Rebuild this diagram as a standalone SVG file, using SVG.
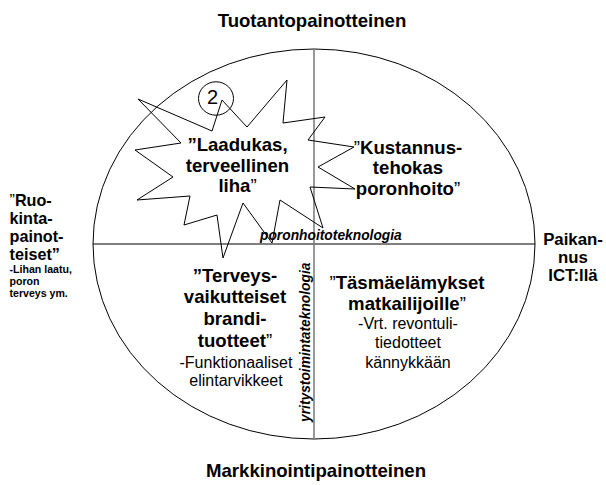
<svg xmlns="http://www.w3.org/2000/svg" width="606" height="485" viewBox="0 0 606 485">
<style>
text{font-family:"Liberation Sans",Arial,Helvetica,sans-serif;fill:#000}
.b{font-weight:bold;font-size:18.6px}
.r{font-size:16px}
.m{text-anchor:middle}
.bi{font-weight:bold;font-style:italic;font-size:13.8px}
.s{font-weight:bold;font-size:10.6px}
.q{font-weight:normal}
.ln{fill:none;stroke:#000;stroke-width:1}
</style>
<rect width="606" height="485" fill="#fff"/>
<g id="axes">
<ellipse class="ln" cx="314" cy="244" rx="221" ry="195"/>
<line x1="93" y1="244" x2="535" y2="244" stroke="#000" stroke-width="1"/>
<line x1="314" y1="49" x2="314" y2="439" stroke="#777" stroke-width="1.5"/>
</g>
<g id="top-label"><text class="b m" x="312" y="27">Tuotantopainotteinen</text></g>
<g id="bottom-label"><text class="b m" x="316" y="477">Markkinointipainotteinen</text></g>
<g id="left-label">
<text class="b" style="font-size:16.2px" x="9.5"><tspan x="9.5" y="206"><tspan class="q">”</tspan>Ruo-</tspan><tspan x="9.5" y="224">kinta-</tspan><tspan x="9.5" y="242">painot-</tspan><tspan x="9.5" y="260">teiset”</tspan></text>
<text class="s"><tspan x="9.5" y="272.5">-Lihan laatu,</tspan><tspan x="9.5" y="284.5">poron</tspan><tspan x="9.5" y="296.5">terveys ym.</tspan></text>
</g>
<g id="right-label">
<text class="b m" style="font-size:16.8px"><tspan x="573" y="245">Paikan-</tspan><tspan x="573" y="263">nus</tspan><tspan x="573" y="281">ICT:llä</tspan></text>
</g>
<g id="star-node">
<polygon class="ln" points="138,99 212,131 222,100 247,127 287,80 283,123 325,117 308,140 354,147 318,167 355,189 310,187 323,228 280,200 272,243 243,203 223,258 217,215 184,225 190,196 137,200 173,177 135,150 181,143"/>
<ellipse class="ln" cx="216" cy="98.5" rx="17.5" ry="16.7"/>
<text x="212.5" y="103.5" class="m" style="font-size:20px">2</text>
<text class="b m"><tspan x="237.5" y="151">”Laadukas,</tspan><tspan x="237.5" y="171.5">terveellinen</tspan><tspan x="237.5" y="192">liha<tspan class="q">”</tspan></tspan></text>
</g>
<g id="kustannus-node">
<text class="b m"><tspan x="408" y="153.5"><tspan class="q">”</tspan>Kustannus-</tspan><tspan x="408" y="174">tehokas</tspan><tspan x="408" y="194.5">poronhoito<tspan class="q">”</tspan></tspan></text>
</g>
<g id="terveys-node">
<text class="b m"><tspan x="235" y="281.7">”Terveys-</tspan><tspan x="235" y="303.3">vaikutteiset</tspan><tspan x="235" y="325">brandi-</tspan><tspan x="235" y="347">tuotteet<tspan class="q">”</tspan></tspan></text>
<text class="r m"><tspan x="236" y="367.7">-Funktionaaliset</tspan><tspan x="236" y="386">elintarvikkeet</tspan></text>
</g>
<g id="tasma-node">
<text class="b m"><tspan x="407" y="289.3"><tspan class="q">”</tspan>Täsmäelämykset</tspan><tspan x="407" y="310">matkailijoille<tspan class="q">”</tspan></tspan></text>
<text class="r m"><tspan x="408" y="328.5">-Vrt. revontuli-</tspan><tspan x="408" y="348">tiedotteet</tspan><tspan x="408" y="368">kännykkään</tspan></text>
</g>
<g id="axis-labels">
<text class="bi" x="260" y="240">poronhoitoteknologia</text>
<text class="bi" transform="translate(310,422) rotate(-90)">yritystoimintateknologia</text>
</g>
</svg>
